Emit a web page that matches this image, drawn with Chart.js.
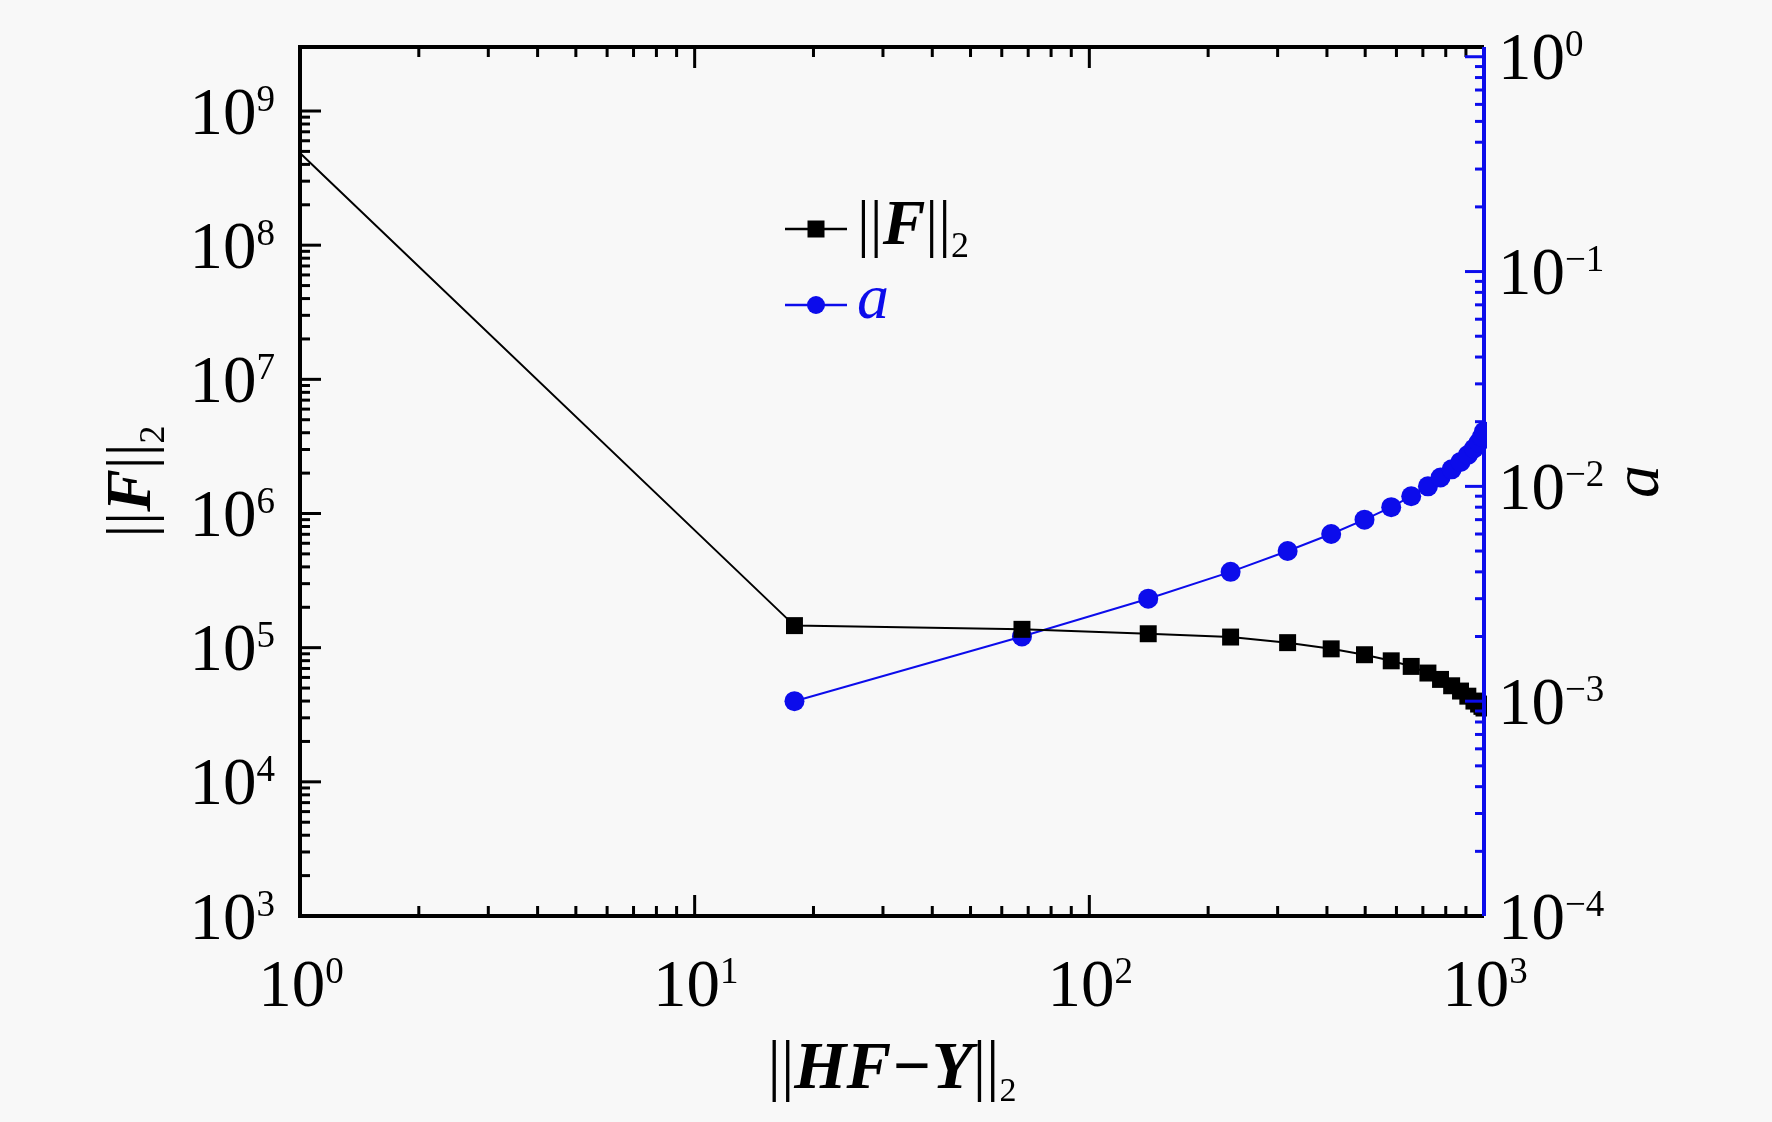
<!DOCTYPE html>
<html>
<head>
<meta charset="utf-8">
<script src="https://cdn.jsdelivr.net/npm/chart.js@4.4.1/dist/chart.umd.min.js"></script>
<style>
  html, body { margin: 0; padding: 0; background: #f8f8f8; }
  #wrap { width: 1772px; height: 1122px; }
</style>
</head>
<body>
<div id="wrap"><canvas id="c" width="1772" height="1122"></canvas></div>
<script>
// ---- data ----
const residualNorm = [1, 17.9, 67.5, 141, 228, 318, 410, 498, 582, 654, 721, 776, 828, 872, 910, 943, 969, 988, 1000];
const solutionNorm = [4.87e8, 1.46e5, 1.37e5, 1.27e5, 1.20e5, 1.09e5, 9.8e4, 8.86e4, 7.98e4, 7.25e4, 6.47e4, 5.8e4, 5.2e4, 4.75e4, 4.35e4, 4.0e4, 3.8e4, 3.65e4, 3.55e4];
const alphaResidual = [17.9, 67.5, 141, 228, 318, 410, 498, 582, 654, 721, 776, 828, 872, 910, 943, 969, 988, 1000];
const alphaValues = [0.001, 0.002, 0.003, 0.004, 0.005, 0.006, 0.007, 0.008, 0.009, 0.010, 0.011, 0.012, 0.013, 0.014, 0.015, 0.016, 0.017, 0.018];

// ---- ticks: decade values and their labels (10 with exponent) ----
const xDecades = [1, 10, 100, 1000];
const xTickExp = ['0', '1', '2', '3'];
const yDecades = [1e3, 1e4, 1e5, 1e6, 1e7, 1e8, 1e9];
const yTickExp = ['3', '4', '5', '6', '7', '8', '9'];
const y2Decades = [1e-4, 1e-3, 1e-2, 1e-1, 1];
const y2TickExp = ['\u22124', '\u22123', '\u22122', '\u22121', '0'];

const SERIF = '"Liberation Serif", "Times New Roman", serif';
const BLUE = 'rgb(12,12,235)';
const TICK_FONT = `67px ${SERIF}`;
const SUP_FONT = `37px ${SERIF}`;

function drawRuns(ctx, runs, x, y, align) {
  let total = 0;
  runs.forEach(r => { ctx.font = r.font; total += ctx.measureText(r.text).width; });
  let cx = align === 'center' ? x - total / 2 : (align === 'right' ? x - total : x);
  ctx.textAlign = 'left';
  ctx.textBaseline = 'alphabetic';
  runs.forEach(r => {
    ctx.font = r.font;
    ctx.fillText(r.text, cx, y + (r.dy || 0));
    cx += ctx.measureText(r.text).width;
  });
}
function drawPow(ctx, exp, x, baseline, align) {
  drawRuns(ctx, [
    { text: '10', font: TICK_FONT },
    { text: exp, font: SUP_FONT, dy: -23 }
  ], x, baseline, align);
}

const decorPlugin = {
  id: 'decor',
  afterDatasetsDraw(chart) {
    const ctx = chart.ctx;
    const { left, right, top, bottom } = chart.chartArea;
    const { x, y, y2 } = chart.scales;
    ctx.save();
    ctx.lineCap = 'butt';

    function tickSet(decades) {
      const out = [];
      decades.forEach((d, i) => {
        out.push({ v: d, major: true });
        if (i < decades.length - 1) for (let m = 2; m <= 9; m++) out.push({ v: d * m, major: false });
      });
      return out;
    }
    ctx.strokeStyle = '#000'; ctx.lineWidth = 3;
    tickSet(xDecades).forEach(t => {
      const px = x.getPixelForValue(t.v);
      const len = t.major ? 21 : 10;
      ctx.beginPath();
      ctx.moveTo(px, bottom); ctx.lineTo(px, bottom - len);
      ctx.moveTo(px, top); ctx.lineTo(px, top + len);
      ctx.stroke();
    });
    tickSet(yDecades).forEach(t => {
      const py = y.getPixelForValue(t.v);
      const len = t.major ? 21 : 10;
      ctx.beginPath(); ctx.moveTo(left, py); ctx.lineTo(left + len, py); ctx.stroke();
    });
    ctx.strokeStyle = BLUE;
    tickSet(y2Decades).forEach(t => {
      const py = y2.getPixelForValue(t.v);
      const len = t.major ? 19 : 9;
      ctx.beginPath(); ctx.moveTo(right, py); ctx.lineTo(right - len, py); ctx.stroke();
    });
    ctx.strokeStyle = '#000'; ctx.lineWidth = 4;
    ctx.beginPath();
    ctx.moveTo(right, top); ctx.lineTo(left, top); ctx.lineTo(left, bottom); ctx.lineTo(right, bottom);
    ctx.stroke();
    ctx.strokeStyle = BLUE; ctx.lineWidth = 4;
    ctx.beginPath(); ctx.moveTo(right, top); ctx.lineTo(right, bottom); ctx.stroke();

    // tick labels
    ctx.fillStyle = '#000';
    xDecades.forEach((v, i) => drawPow(ctx, xTickExp[i], x.getPixelForValue(v) + 1, bottom + 90, 'center'));
    yDecades.forEach((v, i) => drawPow(ctx, yTickExp[i], left - 25, y.getPixelForValue(v) + 22.6, 'right'));
    y2Decades.forEach((v, i) => drawPow(ctx, y2TickExp[i], right + 14, y2.getPixelForValue(v) + 22.6, 'left'));

    // axis titles
    const cx = (left + right) / 2, cy = (top + bottom) / 2;
    drawRuns(ctx, [
      { text: '||', font: `67px ${SERIF}` },
      { text: 'HF\u2212Y', font: `italic bold 67px ${SERIF}` },
      { text: '||', font: `67px ${SERIF}` },
      { text: '2', font: `34px ${SERIF}`, dy: 13 }
    ], cx, bottom + 172, 'center');

    ctx.save();
    ctx.translate(left - 150, cy); ctx.rotate(-Math.PI / 2);
    drawRuns(ctx, [
      { text: '||', font: `64px ${SERIF}` },
      { text: 'F', font: `italic bold 64px ${SERIF}` },
      { text: '||', font: `64px ${SERIF}` },
      { text: '2', font: `36px ${SERIF}`, dy: 14 }
    ], 0, 0, 'center');
    ctx.restore();

    ctx.save();
    ctx.translate(right + 174, cy); ctx.rotate(-Math.PI / 2);
    drawRuns(ctx, [{ text: 'a', font: `italic 66px ${SERIF}` }], 0, 0, 'center');
    ctx.restore();

    // legend
    const lx0 = left + 485, lx1 = left + 547, mx = left + 516, tx = left + 557;
    const ly1 = top + 182, ly2 = top + 258;
    ctx.lineWidth = 2.5;
    ctx.strokeStyle = '#000';
    ctx.beginPath(); ctx.moveTo(lx0, ly1); ctx.lineTo(lx1, ly1); ctx.stroke();
    ctx.fillStyle = '#000';
    ctx.fillRect(mx - 8.5, ly1 - 8.5, 17, 17);
    drawRuns(ctx, [
      { text: '||', font: `64px ${SERIF}` },
      { text: 'F', font: `italic bold 64px ${SERIF}` },
      { text: '||', font: `64px ${SERIF}` },
      { text: '2', font: `36px ${SERIF}`, dy: 13 }
    ], tx, ly1 + 15, 'left');
    ctx.strokeStyle = BLUE;
    ctx.beginPath(); ctx.moveTo(lx0, ly2); ctx.lineTo(lx1, ly2); ctx.stroke();
    ctx.fillStyle = BLUE;
    ctx.beginPath(); ctx.arc(mx, ly2, 9, 0, Math.PI * 2); ctx.fill();
    drawRuns(ctx, [{ text: 'a', font: `italic 64px ${SERIF}` }], tx, ly2 + 13, 'left');

    ctx.restore();
  }
};

const bgPlugin = {
  id: 'bg',
  beforeDraw(chart) {
    const ctx = chart.ctx;
    ctx.save(); ctx.fillStyle = '#f8f8f8'; ctx.fillRect(0, 0, chart.width, chart.height); ctx.restore();
  }
};

function axisBase(decades, sizeHook) {
  return {
    type: 'logarithmic',
    grid: { display: false, drawTicks: false },
    border: { display: false },
    afterBuildTicks: s => { s.ticks = decades.map(v => ({ value: v })); },
    afterFit: sizeHook,
    ticks: { display: false }
  };
}

function makeChart() {
  new Chart(document.getElementById('c'), {
    type: 'scatter',
    data: {
      datasets: [
        {
          label: '||F||2',
          data: residualNorm.map((r, i) => ({ x: r, y: solutionNorm[i] })),
          yAxisID: 'y',
          showLine: true,
          borderColor: '#000',
          backgroundColor: '#000',
          borderWidth: 2,
          pointStyle: 'rect',
          pointRadius: ctx => ctx.dataIndex === 0 ? 0 : 12,
          pointBorderWidth: 0,
          clip: 3
        },
        {
          label: 'a',
          data: alphaResidual.map((r, i) => ({ x: r, y: alphaValues[i] })),
          yAxisID: 'y2',
          showLine: true,
          borderColor: BLUE,
          backgroundColor: BLUE,
          borderWidth: 2,
          pointStyle: 'circle',
          pointRadius: 10,
          pointBorderWidth: 0,
          clip: 3
        }
      ]
    },
    options: {
      responsive: false,
      animation: false,
      layout: { padding: { top: 47, left: 0, right: 0, bottom: 0 } },
      plugins: { legend: { display: false }, tooltip: { enabled: false } },
      scales: {
        x: Object.assign(axisBase(xDecades, s => { s.height = 206; }), { position: 'bottom', min: 1, max: 1000 }),
        y: Object.assign(axisBase(yDecades, s => { s.width = 300; }), { position: 'left', min: 1e3, max: 3.0e9 }),
        y2: Object.assign(axisBase(y2Decades, s => { s.width = 288; }), { position: 'right', min: 1e-4, max: 1.11 })
      }
    },
    plugins: [bgPlugin, decorPlugin]
  });
}

const fontLoads = [
  '67px "Liberation Serif"', 'italic 64px "Liberation Serif"',
  'italic bold 64px "Liberation Serif"'
].map(f => document.fonts.load(f, '10HFYa'));
Promise.all(fontLoads).then(makeChart, makeChart);
</script>
</body>
</html>
